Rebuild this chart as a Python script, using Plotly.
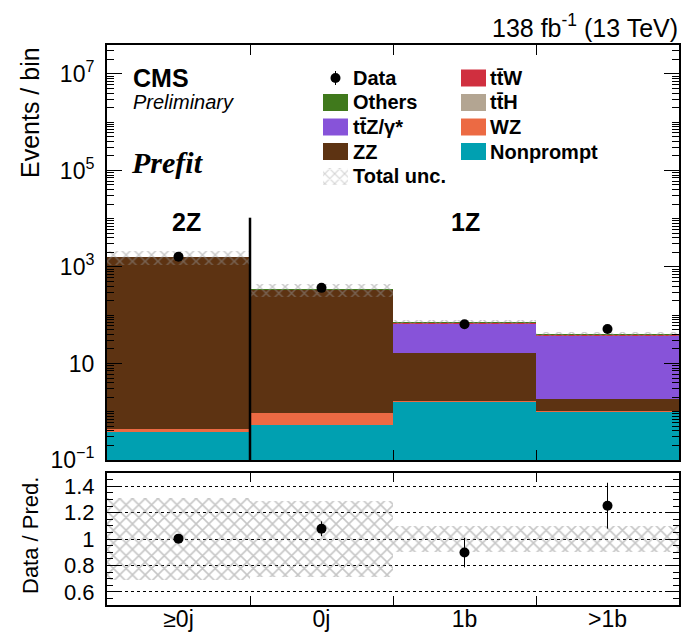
import numpy as np
import plotly.graph_objects as go

# ---- yields per bin ----
bins = ["≥0j", "0j", "1b", ">1b"]
nonprompt = [0.38, 0.52, 1.61, 1.00]
wz = [0.05, 0.43, 0.03, 0.02]
zz = [1610.0, 325.0, 14.7, 0.8]
ttz = [1.5, 3.0, 48.6, 35.4]
tth = [0.3, 0.5, 1.0, 0.6]
ttw = [0.2, 1.0, 1.5, 1.2]
others = [8.0, 12.0, 5.0, 2.5]
data = [1625, 369, 65, 52]
rel_unc = [0.31, 0.29, 0.10, 0.10]

# ---- styling ----
C_NONPROMPT = "#00a0b1"
C_WZ = "#ec6a43"
C_ZZ = "#5d3312"
C_TTZ = "#8753d9"
C_TTH = "#b3a592"
C_TTW = "#d02f3f"
C_OTHERS = "#40791c"
C_HATCH = "#929292"
FONT = "Liberation Sans"

W, H = 681, 633
L, R, T, B = 107, 679, 45, 605          # plot frame in pixels
MAIN_BOTTOM, RATIO_TOP = 460, 473


def px(x):
    return (x - L) / (R - L)


def py(y):
    return (B - y) / (B - T)


centers = np.arange(len(bins)) + 0.5
stack = [
    ("Nonprompt", nonprompt, C_NONPROMPT),
    ("WZ", wz, C_WZ),
    ("ZZ", zz, C_ZZ),
    ("ttZ", ttz, C_TTZ),
    ("ttH", tth, C_TTH),
    ("ttW", ttw, C_TTW),
    ("Others", others, C_OTHERS),
]
cum = np.cumsum(np.array([s[1] for s in stack], dtype=float), axis=0)
total = cum[-1]
unc = np.array(rel_unc)
obs = np.array(data, dtype=float)
ratio = obs / total
ratio_err = np.sqrt(obs) / total

fig = go.Figure()

# stacked histogram, drawn top layer first so lower layers cover it
for i in reversed(range(len(stack))):
    name, _, color = stack[i]
    fig.add_trace(go.Bar(
        x=centers, y=cum[i], width=1.0, marker=dict(color=color, line=dict(width=0)),
        opacity=1, name=name, showlegend=False, xaxis="x", yaxis="y"))

# total uncertainty band
hatch = dict(shape="x", fgcolor=C_HATCH, size=9, solidity=0.3, fillmode="overlay")
fig.add_trace(go.Bar(
    x=centers, base=total * (1 - unc), y=total * 2 * unc, width=1.0,
    marker=dict(color="rgba(0,0,0,0)", line=dict(width=0), pattern=hatch),
    showlegend=False, xaxis="x", yaxis="y"))

# 2Z / 1Z separator
fig.add_trace(go.Scatter(x=[1, 1], y=[0.1, 1.05e4], mode="lines",
                         line=dict(color="black", width=2.5), showlegend=False,
                         xaxis="x", yaxis="y", hoverinfo="skip"))

# observed data
fig.add_trace(go.Scatter(
    x=centers, y=obs, mode="markers",
    marker=dict(color="black", size=10),
    error_y=dict(type="data", array=np.sqrt(obs), color="black", thickness=1, width=0),
    showlegend=False, xaxis="x", yaxis="y"))

# ratio panel
fig.add_trace(go.Bar(
    x=centers, base=1 - unc, y=2 * unc, width=1.0,
    marker=dict(color="rgba(0,0,0,0)", line=dict(width=0),
                pattern=dict(shape="x", fgcolor="#8e8e8e", size=9, solidity=0.32,
                             fillmode="overlay")),
    showlegend=False, xaxis="x2", yaxis="y2"))
fig.add_trace(go.Scatter(
    x=centers, y=ratio, mode="markers",
    marker=dict(color="black", size=10),
    error_y=dict(type="data", array=ratio_err, color="black", thickness=1, width=0),
    showlegend=False, xaxis="x2", yaxis="y2"))

# ---- legend (drawn on a pixel-coordinate overlay axis) ----
rows = [78, 102.5, 127, 151.5, 176]
col1_sw, col2_sw = (323, 348), (461, 486)
col1_tx, col2_tx = 351, 488
sw_h = 17
legend_items = [
    (col1_sw, col1_tx, rows[1], C_OTHERS, "Others"),
    (col1_sw, col1_tx, rows[2], C_TTZ, "tt\u0304Z/γ*"),
    (col1_sw, col1_tx, rows[3], C_ZZ, "ZZ"),
    (col2_sw, col2_tx, rows[0], C_TTW, "tt\u0304W"),
    (col2_sw, col2_tx, rows[1], C_TTH, "tt\u0304H"),
    (col2_sw, col2_tx, rows[2], C_WZ, "WZ"),
    (col2_sw, col2_tx, rows[3], C_NONPROMPT, "Nonprompt"),
]
shapes = []
annotations = []
leg_font = dict(family=FONT, size=20, color="black")
for (sx0, sx1), tx, ry, color, label in legend_items:
    shapes.append(dict(type="rect", xref="x3", yref="y3", x0=sx0, x1=sx1,
                       y0=ry - sw_h / 2, y1=ry + sw_h / 2, fillcolor=color,
                       line=dict(width=0), layer="above"))
    annotations.append(dict(xref="paper", yref="paper", x=px(tx), y=py(ry),
                            text=f"<b>{label}</b>", showarrow=False,
                            xanchor="left", yanchor="middle", font=leg_font))
# Data entry
fig.add_trace(go.Scatter(
    x=[(col1_sw[0] + col1_sw[1]) / 2], y=[rows[0]], mode="markers",
    marker=dict(color="black", size=10),
    error_y=dict(type="constant", value=7, color="black", thickness=1, width=0),
    showlegend=False, xaxis="x3", yaxis="y3", hoverinfo="skip"))
annotations.append(dict(xref="paper", yref="paper", x=px(col1_tx), y=py(rows[0]),
                        text="<b>Data</b>", showarrow=False, xanchor="left",
                        yanchor="middle", font=leg_font))
# Total unc. entry
fig.add_trace(go.Bar(
    x=[(col1_sw[0] + col1_sw[1]) / 2], base=[rows[4] - sw_h / 2], y=[sw_h],
    width=col1_sw[1] - col1_sw[0],
    marker=dict(color="rgba(0,0,0,0)", line=dict(width=0),
                pattern=dict(shape="x", fgcolor="#a8a8a8", size=7, solidity=0.3,
                             fillmode="overlay")),
    showlegend=False, xaxis="x3", yaxis="y3", hoverinfo="skip"))
annotations.append(dict(xref="paper", yref="paper", x=px(col1_tx), y=py(rows[4]),
                        text="<b>Total unc.</b>", showarrow=False, xanchor="left",
                        yanchor="middle", font=leg_font))

# ---- labels ----
annotations += [
    dict(xref="paper", yref="paper", x=px(680), y=py(26), xanchor="right", yanchor="middle",
         text="138 fb<sup>-1</sup> (13 TeV)", showarrow=False,
         font=dict(family=FONT, size=25, color="black")),
    dict(xref="paper", yref="paper", x=px(131), y=py(78), xanchor="left", yanchor="middle",
         text="<b>CMS</b>", showarrow=False, font=dict(family=FONT, size=25, color="black")),
    dict(xref="paper", yref="paper", x=px(131), y=py(102), xanchor="left", yanchor="middle",
         text="<i>Preliminary</i>", showarrow=False,
         font=dict(family=FONT, size=20, color="black")),
    dict(xref="paper", yref="paper", x=px(129), y=py(162), xanchor="left", yanchor="middle",
         text="<b><i>Prefit</i></b>", showarrow=False,
         font=dict(family="Liberation Serif", size=30, color="black")),
    dict(xref="paper", yref="paper", x=px(186), y=py(222), xanchor="center", yanchor="middle",
         text="<b>2Z</b>", showarrow=False, font=dict(family=FONT, size=25, color="black")),
    dict(xref="paper", yref="paper", x=px(465), y=py(222), xanchor="center", yanchor="middle",
         text="<b>1Z</b>", showarrow=False, font=dict(family=FONT, size=25, color="black")),
    dict(xref="paper", yref="paper", x=px(30), y=py(113), xanchor="center", yanchor="middle",
         text="Events / bin", textangle=-90, showarrow=False,
         font=dict(family=FONT, size=25, color="black")),
    dict(xref="paper", yref="paper", x=px(30), y=py(536), xanchor="center", yanchor="middle",
         text="Data / Pred.", textangle=-90, showarrow=False,
         font=dict(family=FONT, size=22, color="black")),
]

labelled = [10.0 ** k for k in (-1, 1, 3, 5, 7)]
labelled_text = ["10<sup>\u22121</sup>", "10", "10<sup>3</sup>", "10<sup>5</sup>",
                 "10<sup>7</sup>"]
minor_log = [m * 10.0 ** k for k in range(-1, 8) for m in range(2, 10)]
minor_log += [10.0 ** k for k in (0, 2, 4, 6)]

frame = dict(showline=True, linecolor="black", linewidth=2, mirror="ticks",
             zeroline=False, tickcolor="black", tickwidth=1)
tick_font = dict(family=FONT, size=23, color="black")

fig.update_layout(
    width=W, height=H,
    margin=dict(l=L, r=W - R, t=T, b=H - B, autoexpand=False),
    paper_bgcolor="white", plot_bgcolor="rgba(0,0,0,0)",
    barmode="overlay", bargap=0, showlegend=False,
    font=dict(family=FONT, color="black"),
    xaxis=dict(domain=[0, 1], anchor="y", range=[0, 4], tickmode="array", tickvals=[1, 2, 3],
               ticks="inside", ticklen=10, showticklabels=False, showgrid=False, **frame),
    yaxis=dict(domain=[py(MAIN_BOTTOM), 1], anchor="x", type="log", range=[-1, 7.6],
               tickmode="array", tickvals=labelled, ticktext=labelled_text, ticks="inside",
               ticklen=15, showgrid=False, tickfont=tick_font, ticklabelstandoff=6,
               minor=dict(tickmode="array", tickvals=minor_log, ticks="inside", ticklen=7,
                          tickcolor="black", showgrid=False),
               **frame),
    xaxis2=dict(domain=[0, 1], anchor="y2", range=[0, 4], tickmode="array",
                tickvals=list(centers), ticktext=bins, ticks="", showgrid=False,
                tickfont=tick_font, ticklabelstandoff=-8,
                minor=dict(tickmode="array", tickvals=[1, 2, 3], ticks="inside", ticklen=9,
                           tickcolor="black", showgrid=False),
                **frame),
    yaxis2=dict(domain=[0, py(RATIO_TOP)], anchor="x2", range=[0.5, 1.5], tickmode="array",
                tickvals=[0.6, 0.8, 1.0, 1.2, 1.4], ticktext=["0.6", "0.8", "1", "1.2", "1.4"],
                ticks="inside", ticklen=13, showgrid=True, gridcolor="black", griddash="dot",
                gridwidth=1, tickfont=dict(family=FONT, size=22, color="black"),
                ticklabelstandoff=6,
                minor=dict(tick0=0, dtick=0.05, ticks="inside", ticklen=6, tickcolor="black",
                           showgrid=False),
                **frame),
    xaxis3=dict(domain=[0, 1], anchor="y3", range=[L, R], visible=False, fixedrange=True),
    yaxis3=dict(domain=[0, 1], anchor="x3", range=[B, T], visible=False, fixedrange=True),
    shapes=shapes,
    annotations=annotations,
)

fig.write_html("out.html")
